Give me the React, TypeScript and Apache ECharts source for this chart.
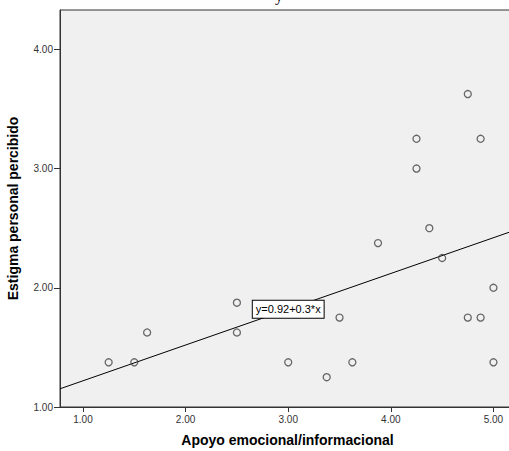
import React, { useEffect, useRef } from "react";
import * as echarts from "echarts";

// Observed data (x: Apoyo emocional/informacional, y: Estigma personal percibido)
const xValues = [1.25, 1.5, 1.625, 2.5, 2.5, 3.0, 3.375, 3.5, 3.625, 3.875, 4.25, 4.25, 4.375, 4.5, 4.75, 4.75, 4.875, 4.875, 5.0, 5.0];
const yValues = [1.375, 1.375, 1.625, 1.875, 1.625, 1.375, 1.25, 1.75, 1.375, 2.375, 3.25, 3.0, 2.5, 2.25, 3.625, 1.75, 3.25, 1.75, 2.0, 1.375];

// Tick labels
const xTicks = [1, 2, 3, 4, 5];
const yTicks = [1, 2, 3, 4];

// Fit line
const intercept = 0.92;
const slope = 0.3;
const fitLabel = "y=0.92+0.3*x";

// Axis ranges
const xMin = 0.776;
const xMax = 5.21;
const yMin = 1.0;
const yMax = 4.33;

const labelAnchor = [3.0, 1.82];

const FONT = "'Liberation Sans', Arial, Helvetica, sans-serif";

export default function App() {
  const ref = useRef<HTMLDivElement>(null);

  useEffect(() => {
    if (!ref.current) return;
    const chart = echarts.init(ref.current, undefined, { renderer: "svg" });
    const points = xValues.map((x, i) => [x, yValues[i]]);
    const fitData = [
      [xMin, intercept + slope * xMin],
      [xMax, intercept + slope * xMax],
    ];
    chart.setOption({
      animation: false,
      backgroundColor: "#ffffff",
      grid: {
        left: 60,
        top: 10,
        width: 455,
        height: 397,
        show: true,
        backgroundColor: "#f0f0f0",
        borderColor: "#333333",
        borderWidth: 1,
        containLabel: false,
        outerBoundsMode: "none",
      },
      graphic: [
        {
          type: "text",
          left: 275,
          top: -13,
          style: {
            text: "y",
            font: "16px 'Liberation Serif', 'DejaVu Serif', serif",
            fill: "#000",
          },
        },
      ],
      xAxis: {
        type: "value",
        min: xMin,
        max: xMax,
        name: "Apoyo emocional/informacional",
        nameLocation: "middle",
        nameGap: 26,
        nameTextStyle: { fontFamily: FONT, fontSize: 14, fontWeight: "bold", color: "#000" },
        axisLine: { show: true, onZero: false, lineStyle: { color: "#333", width: 1 } },
        axisTick: { show: true, length: 5, customValues: xTicks, lineStyle: { color: "#333" } },
        axisLabel: {
          customValues: xTicks,
          formatter: (v: number) => v.toFixed(2),
          fontFamily: FONT,
          fontSize: 10,
          color: "#333",
          margin: 7,
        },
        splitLine: { show: false },
      },
      yAxis: {
        type: "value",
        min: yMin,
        max: yMax,
        name: "Estigma personal percibido",
        nameLocation: "middle",
        nameGap: 40,
        nameTextStyle: { fontFamily: FONT, fontSize: 14, fontWeight: "bold", color: "#000" },
        axisLine: { show: true, onZero: false, lineStyle: { color: "#333", width: 1 } },
        axisTick: { show: true, length: 6, customValues: yTicks, lineStyle: { color: "#333" } },
        axisLabel: {
          customValues: yTicks,
          formatter: (v: number) => v.toFixed(2),
          fontFamily: FONT,
          fontSize: 10,
          color: "#333",
          margin: 7,
        },
        splitLine: { show: false },
      },
      series: [
        {
          type: "scatter",
          data: points,
          symbol: "circle",
          symbolSize: 7,
          itemStyle: { color: "transparent", borderColor: "#444", borderWidth: 1.3 },
          z: 3,
        },
        {
          type: "line",
          data: fitData,
          showSymbol: false,
          symbol: "none",
          lineStyle: { color: "#000", width: 1 },
          z: 2,
          silent: true,
          markPoint: {
            symbol: "rect",
            symbolSize: 1,
            itemStyle: { color: "transparent" },
            data: [
              {
                coord: labelAnchor,
                label: {
                  show: true,
                  position: "inside",
                  formatter: fitLabel,
                  fontFamily: FONT,
                  fontSize: 11,
                  color: "#000",
                  backgroundColor: "#ffffff",
                  borderColor: "#000",
                  borderWidth: 1,
                  padding: [3, 3, 3, 3],
                },
              },
            ],
          },
        },
      ],
    });
    return () => chart.dispose();
  }, []);

  return (
    <div
      ref={ref}
      style={{ position: "fixed", left: 0, top: 0, width: 509, height: 451 }}
    />
  );
}
